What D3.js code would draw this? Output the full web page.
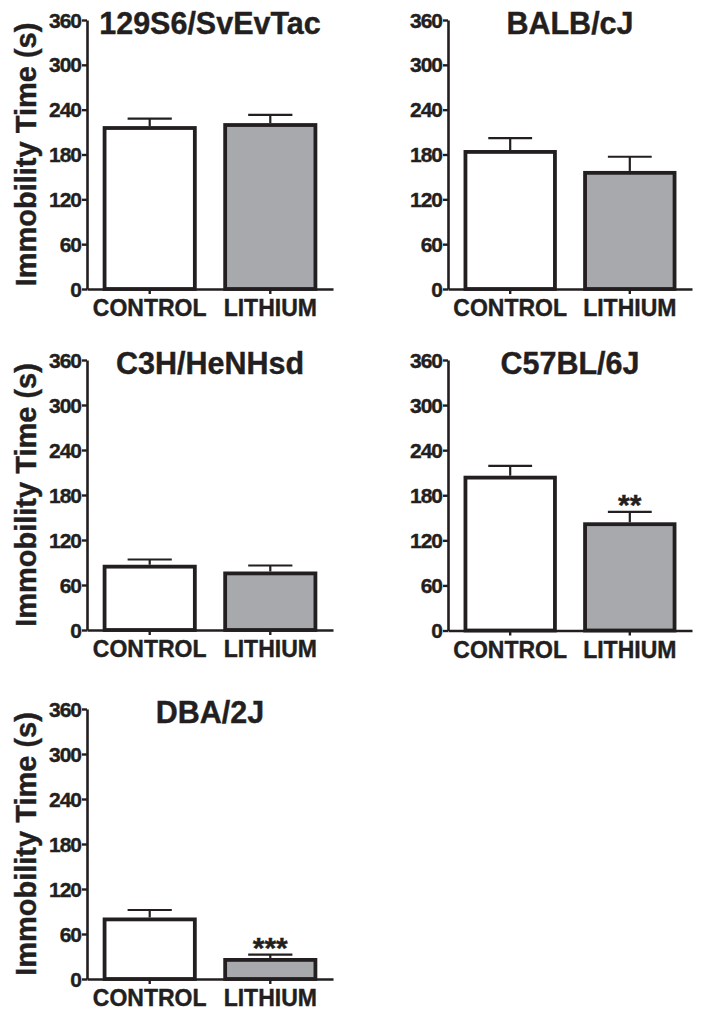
<!DOCTYPE html>
<html><head><meta charset="utf-8">
<script src="https://cdn.jsdelivr.net/npm/d3@7"></script>
<style>
html,body{margin:0;padding:0;background:#fff;}
svg{display:block;}
text{font-family:"Liberation Sans",Arial,Helvetica,sans-serif;font-weight:bold;fill:#231f20;stroke:#231f20;stroke-width:0.4px;}
</style></head>
<body>
<script>
// ---- data ----
const strains = ["129S6/SvEvTac", "BALB/cJ", "C3H/HeNHsd", "C57BL/6J", "DBA/2J"];
const groups = ["CONTROL", "LITHIUM"];
const controlMean = [218, 186, 87, 206, 82];
const controlSEM = [10, 16, 7, 13, 10];
const lithiumMean = [222, 158, 78, 144, 28];
const lithiumSEM = [11, 19, 8, 14, 4.5];
const significance = ["", "", "", "**", "***"];
const yTicks = [0, 60, 120, 180, 240, 300, 360];
const yLabel = "Immobility Time (s)";

// ---- layout ----
const W = 704, H = 1016;
const panels = [
  {x0: 87, x1: 333, yTop: 20, yBot: 289, ylab: true},
  {x0: 448, x1: 692, yTop: 20, yBot: 289, ylab: false},
  {x0: 87, x1: 333, yTop: 360, yBot: 630, ylab: true},
  {x0: 448, x1: 692, yTop: 360, yBot: 630.5, ylab: false},
  {x0: 87, x1: 333, yTop: 709, yBot: 979, ylab: true}
];
const ink = "#231f20", grayFill = "#a7a9ac";

const svg = d3.select("body").append("svg").attr("width", W).attr("height", H);

strains.forEach((s, i) => {
  const p = panels[i];
  const g = svg.append("g");
  const y = d3.scaleLinear().domain([0, 360]).range([p.yBot, p.yTop]);
  const x = d3.scaleBand().domain(groups).range([p.x0, p.x1]).paddingInner(0.22).paddingOuter(0.13);

  const rows = [
    {grp: groups[0], mean: controlMean[i], sem: controlSEM[i], fill: "#ffffff", sig: ""},
    {grp: groups[1], mean: lithiumMean[i], sem: lithiumSEM[i], fill: grayFill, sig: significance[i]}
  ];

  // error bars (upward only)
  const capW = x.bandwidth() * 0.47;
  rows.forEach(r => {
    const cx = x(r.grp) + x.bandwidth() / 2;
    g.append("line").attr("x1", cx).attr("x2", cx)
      .attr("y1", y(r.mean)).attr("y2", y(r.mean + r.sem))
      .attr("stroke", ink).attr("stroke-width", 2.2);
    g.append("line").attr("x1", cx - capW / 2).attr("x2", cx + capW / 2)
      .attr("y1", y(r.mean + r.sem)).attr("y2", y(r.mean + r.sem))
      .attr("stroke", ink).attr("stroke-width", 2.2);
  });

  // bars
  const sw = 3.8;
  g.selectAll("rect.bar").data(rows).enter().append("rect")
    .attr("class", "bar")
    .attr("x", d => x(d.grp) + sw / 2)
    .attr("width", x.bandwidth() - sw)
    .attr("y", d => y(d.mean) + sw / 2)
    .attr("height", d => y(0) - y(d.mean) - sw / 2)
    .attr("fill", d => d.fill)
    .attr("stroke", ink).attr("stroke-width", sw);

  // significance
  rows.forEach(r => {
    if (!r.sig) return;
    const cx = x(r.grp) + x.bandwidth() / 2;
    g.append("text").attr("x", cx).attr("y", y(r.mean + r.sem) + 3)
      .attr("text-anchor", "middle").style("font-size", "30px").text(r.sig);
  });

  // y axis
  const ya = g.append("g").attr("transform", `translate(${p.x0},0)`)
    .call(d3.axisLeft(y).tickValues(yTicks).tickSize(5).tickPadding(1).tickSizeOuter(0));
  ya.select(".domain").attr("stroke", ink).attr("stroke-width", 2.6);
  ya.selectAll(".tick line").attr("stroke", ink).attr("stroke-width", 2.4);
  ya.selectAll(".tick text").style("font-size", "21px").style("letter-spacing", "-1px")
    .attr("dy", "0.34em").attr("fill", ink);

  // x axis
  const xa = g.append("g").attr("transform", `translate(0,${p.yBot})`)
    .call(d3.axisBottom(x).tickSize(5).tickSizeOuter(0));
  xa.select(".domain").attr("stroke", ink).attr("stroke-width", 2.6);
  xa.selectAll(".tick line").attr("stroke", ink).attr("stroke-width", 2.4);
  xa.selectAll(".tick text").style("font-size", "23px").attr("fill", ink)
    .attr("y", 27).attr("dy", 0);

  // title
  g.append("text").attr("x", (p.x0 + p.x1) / 2).attr("y", p.yTop + 14)
    .attr("text-anchor", "middle").style("font-size", "30.5px").text(s);

  // y label
  if (p.ylab) {
    g.append("text")
      .attr("transform", `translate(${p.x0 - 51},${(p.yTop + p.yBot) / 2}) rotate(-90)`)
      .attr("text-anchor", "middle").style("font-size", "29px").text(yLabel);
  }
});
</script>
</body></html>
